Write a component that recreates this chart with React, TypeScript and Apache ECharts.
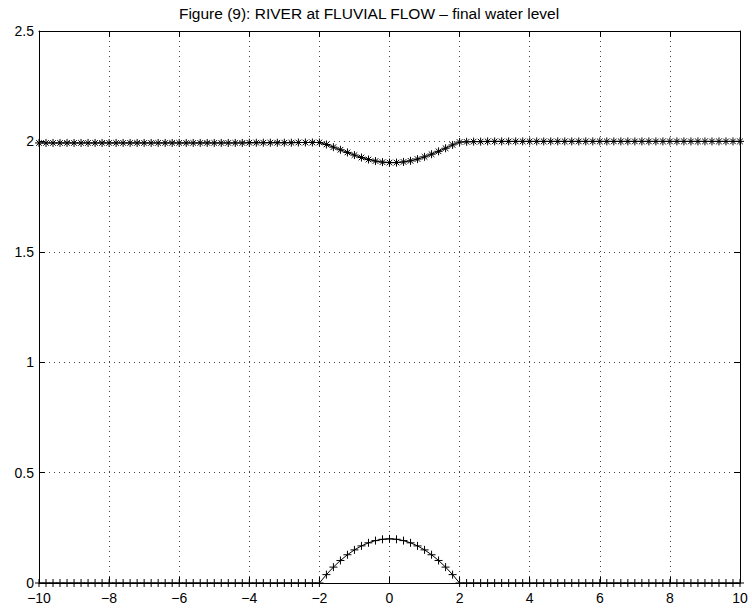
import React, { useEffect, useRef } from "react";
import * as echarts from "echarts";

const xValues: number[] = [
  -10, -9.8, -9.6, -9.4, -9.2, -9, -8.8, -8.6, -8.4, -8.2,
  -8, -7.8, -7.6, -7.4, -7.2, -7, -6.8, -6.6, -6.4, -6.2,
  -6, -5.8, -5.6, -5.4, -5.2, -5, -4.8, -4.6, -4.4, -4.2,
  -4, -3.8, -3.6, -3.4, -3.2, -3, -2.8, -2.6, -2.4, -2.2,
  -2, -1.8, -1.6, -1.4, -1.2, -1, -0.8, -0.6, -0.4, -0.2,
  0, 0.2, 0.4, 0.6, 0.8, 1, 1.2, 1.4, 1.6, 1.8,
  2, 2.2, 2.4, 2.6, 2.8, 3, 3.2, 3.4, 3.6, 3.8,
  4, 4.2, 4.4, 4.6, 4.8, 5, 5.2, 5.4, 5.6, 5.8,
  6, 6.2, 6.4, 6.6, 6.8, 7, 7.2, 7.4, 7.6, 7.8,
  8, 8.2, 8.4, 8.6, 8.8, 9, 9.2, 9.4, 9.6, 9.8,
  10,
];

const waterLevel: number[] = [
  1.993, 1.993, 1.993, 1.993, 1.993, 1.993, 1.993, 1.993, 1.993, 1.993,
  1.993, 1.993, 1.993, 1.993, 1.993, 1.993, 1.993, 1.993, 1.993, 1.993,
  1.993, 1.993, 1.993, 1.993, 1.993, 1.993, 1.993, 1.993, 1.993, 1.993,
  1.994, 1.994, 1.994, 1.994, 1.994, 1.994, 1.994, 1.995, 1.995, 1.995,
  1.995, 1.986, 1.974, 1.962, 1.95, 1.938, 1.927, 1.918, 1.911, 1.906,
  1.904, 1.904, 1.907, 1.912, 1.92, 1.93, 1.942, 1.955, 1.969, 1.984,
  1.997, 1.998, 1.999, 1.999, 2.0, 2.0, 2.0, 2.0, 2.0, 2.0,
  2.0, 2.0, 2.0, 2.0, 2.0, 2.0, 2.0, 2.0, 2.0, 2.0,
  2.0, 2.0, 2.0, 2.0, 2.0, 2.0, 2.0, 2.0, 2.0, 2.0,
  2.0, 2.0, 2.0, 2.0, 2.0, 2.0, 2.0, 2.0, 2.0, 2.0,
  2.0,
];

const bedLevel: number[] = [
  0, 0, 0, 0, 0, 0, 0, 0, 0, 0,
  0, 0, 0, 0, 0, 0, 0, 0, 0, 0,
  0, 0, 0, 0, 0, 0, 0, 0, 0, 0,
  0, 0, 0, 0, 0, 0, 0, 0, 0, 0,
  0, 0.038, 0.072, 0.102, 0.128, 0.15, 0.168, 0.182, 0.192, 0.198,
  0.2, 0.198, 0.192, 0.182, 0.168, 0.15, 0.128, 0.102, 0.072, 0.038,
  0, 0, 0, 0, 0, 0, 0, 0, 0, 0,
  0, 0, 0, 0, 0, 0, 0, 0, 0, 0,
  0, 0, 0, 0, 0, 0, 0, 0, 0, 0,
  0, 0, 0, 0, 0, 0, 0, 0, 0, 0,
  0,
];

const titleText = "Figure (9): RIVER at FLUVIAL FLOW \u2013 final water level";
const xMin = -10;
const xMax = 10;
const xStep = 2;
const yMin = 0;
const yMax = 2.5;
const yStep = 0.5;

const FONT = "'Liberation Sans', Arial, Helvetica, sans-serif";
const PLUS = "path://M0,-1L0,1M-1,0L1,0";
const STAR = "path://M0,-1L0,1M-1,0L1,0M-0.7,-0.7L0.7,0.7M-0.7,0.7L0.7,-0.7";

export default function App() {
  const ref = useRef<HTMLDivElement>(null);
  useEffect(() => {
    document.body.style.margin = "0";
    if (!ref.current) return;
    const chart = echarts.init(ref.current, undefined, { renderer: "svg" });
    const fmt = (v: number) => (v < 0 ? "\u2212" + Math.abs(v) : String(v));
    const gridStyle = { show: true, lineStyle: { color: "#444", type: [1, 4] as any, width: 1 } };
    const tick = { show: true, inside: true, length: 6, lineStyle: { color: "#000", width: 1 } };
    const axLine = { show: true, onZero: false, lineStyle: { color: "#000", width: 1 } };
    const mk = (ys: number[]) => xValues.map((x, i) => [x, ys[i]]);
    chart.setOption({
      animation: false,
      backgroundColor: "#fff",
      grid: { left: 39, right: 12, top: 31, bottom: 26, containLabel: false },
      graphic: [
        {
          type: "text",
          x: 369,
          y: 13,
          style: {
            text: titleText,
            font: `15.5px ${FONT}`,
            fill: "#000",
            textAlign: "center",
            textVerticalAlign: "middle",
          },
        },
      ],
      xAxis: [
        {
          type: "value",
          min: xMin,
          max: xMax,
          interval: xStep,
          position: "bottom",
          axisLine: axLine,
          axisTick: tick,
          splitLine: gridStyle,
          axisLabel: { formatter: fmt, color: "#000", fontSize: 14, fontFamily: FONT, margin: 8 },
        },
        {
          type: "value",
          min: xMin,
          max: xMax,
          interval: xStep,
          position: "top",
          axisLine: axLine,
          axisTick: tick,
          splitLine: { show: false },
          axisLabel: { show: false },
        },
      ],
      yAxis: [
        {
          type: "value",
          min: yMin,
          max: yMax,
          interval: yStep,
          position: "left",
          axisLine: axLine,
          axisTick: tick,
          splitLine: gridStyle,
          axisLabel: { color: "#000", fontSize: 14, fontFamily: FONT, margin: 5 },
        },
        {
          type: "value",
          min: yMin,
          max: yMax,
          interval: yStep,
          position: "right",
          axisLine: axLine,
          axisTick: tick,
          splitLine: { show: false },
          axisLabel: { show: false },
        },
      ],
      series: [
        {
          name: "water level",
          type: "line",
          data: mk(waterLevel),
          symbol: STAR,
          symbolSize: 8,
          symbolKeepAspect: true,
          showAllSymbol: true,
          clip: false,
          lineStyle: { color: "#000", width: 1 },
          itemStyle: { color: "#000", borderColor: "#000", borderWidth: 1 },
        },
        {
          name: "bed",
          type: "line",
          data: mk(bedLevel),
          symbol: PLUS,
          symbolSize: 8,
          symbolKeepAspect: true,
          showAllSymbol: true,
          clip: false,
          lineStyle: { color: "#000", width: 1 },
          itemStyle: { color: "#000", borderColor: "#000", borderWidth: 1 },
        },
      ],
    });
    return () => chart.dispose();
  }, []);
  return <div ref={ref} style={{ width: 752, height: 609 }} />;
}
